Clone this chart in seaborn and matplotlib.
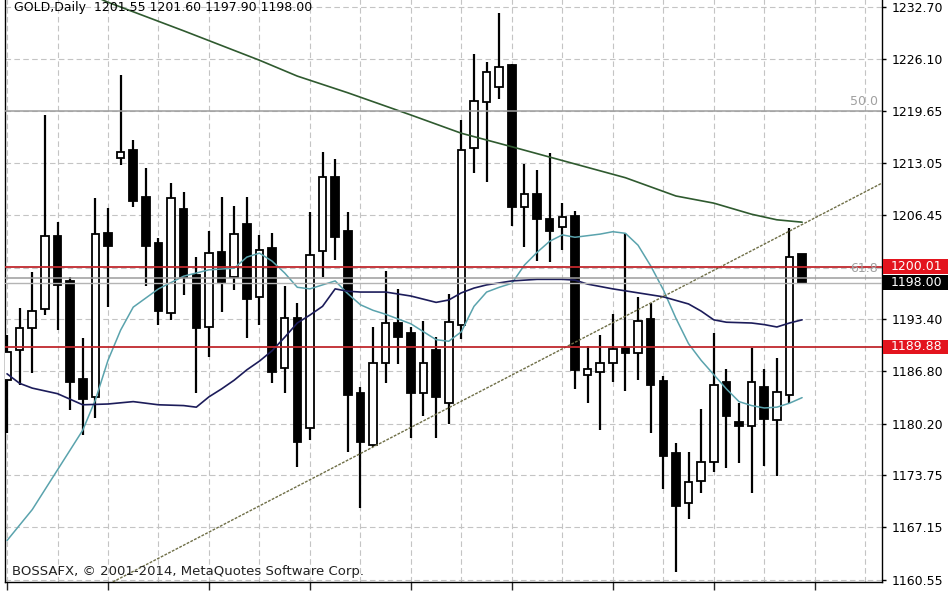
import numpy as np
import pandas as pd
import matplotlib
matplotlib.use("Agg")
import matplotlib.pyplot as plt
import matplotlib.transforms as mtransforms
from matplotlib.patches import Rectangle
import seaborn as sns

sns.set_style("white")
plt.rcParams['font.family'] = ['DejaVu Sans']

# daily GOLD candles (oldest first)
opens = [1185.7, 1189.5, 1192.3, 1194.7, 1203.9, 1198.2, 1185.9, 1183.6, 1204.2, 1213.7,
         1214.7, 1208.8, 1203.0, 1194.2, 1207.3, 1199.0, 1192.4, 1201.8, 1198.7, 1205.4,
         1196.2, 1202.3, 1187.2, 1193.5, 1179.7, 1202.0, 1211.3, 1204.5, 1184.1, 1177.5,
         1187.9, 1192.9, 1191.6, 1184.1, 1189.5, 1182.8, 1192.7, 1214.9, 1220.7, 1222.6,
         1225.4, 1207.5, 1209.2, 1206.0, 1205.0, 1206.4, 1186.4, 1186.7, 1187.9, 1189.8,
         1189.1, 1193.4, 1185.6, 1176.5, 1170.2, 1173.0, 1175.4, 1185.5, 1180.4, 1179.9,
         1184.8, 1180.7, 1183.8, 1201.55]
highs = [1191.4, 1194.8, 1199.3, 1219.1, 1205.6, 1198.7, 1191.0, 1208.6, 1207.4, 1224.1,
         1216.0, 1212.4, 1203.6, 1210.5, 1209.4, 1201.2, 1204.5, 1208.8, 1207.6, 1208.8,
         1204.0, 1204.2, 1197.6, 1195.4, 1206.9, 1214.4, 1213.6, 1206.9, 1184.8, 1192.4,
         1199.5, 1197.2, 1192.4, 1193.2, 1191.1, 1196.6, 1218.5, 1226.8, 1225.8, 1231.9,
         1225.5, 1212.9, 1212.2, 1214.3, 1208.0, 1207.0, 1190.0, 1191.4, 1194.0, 1204.2,
         1196.2, 1195.4, 1186.2, 1177.8, 1176.7, 1182.1, 1191.6, 1187.1, 1182.8, 1189.8,
         1187.1, 1188.5, 1204.9, 1201.60]
lows = [1179.1, 1185.1, 1186.6, 1193.9, 1192.0, 1181.9, 1178.8, 1180.9, 1194.9, 1212.8,
        1207.5, 1197.6, 1192.7, 1193.3, 1196.4, 1184.1, 1188.6, 1194.3, 1197.1, 1191.0,
        1192.7, 1185.3, 1184.1, 1174.8, 1178.2, 1198.7, 1200.8, 1176.7, 1169.6, 1177.3,
        1185.3, 1187.7, 1178.4, 1181.2, 1178.4, 1180.2, 1190.9, 1211.8, 1210.7, 1221.1,
        1205.1, 1202.5, 1200.7, 1200.6, 1202.1, 1184.6, 1182.8, 1179.4, 1185.5, 1184.3,
        1185.7, 1179.1, 1172.0, 1161.5, 1168.2, 1171.5, 1174.1, 1174.6, 1175.3, 1171.5,
        1174.9, 1173.6, 1182.8, 1197.90]
closes = [1189.3, 1192.3, 1194.4, 1203.9, 1197.7, 1185.5, 1183.3, 1204.1, 1202.6, 1214.4,
          1208.3, 1202.6, 1194.4, 1208.6, 1198.7, 1192.3, 1201.7, 1198.1, 1204.1, 1195.9,
          1202.1, 1186.7, 1193.5, 1177.9, 1201.5, 1211.3, 1203.7, 1183.8, 1177.9, 1187.9,
          1192.9, 1191.1, 1184.1, 1187.9, 1183.6, 1193.0, 1214.7, 1220.9, 1224.5, 1225.1,
          1207.5, 1209.2, 1206.0, 1204.5, 1206.3, 1187.0, 1187.1, 1187.9, 1189.6, 1189.1,
          1193.2, 1185.1, 1176.2, 1169.9, 1172.9, 1175.4, 1185.1, 1181.2, 1179.9, 1185.5,
          1180.8, 1184.2, 1201.2, 1198.00]

# moving averages (bar index, value)
fast_idx = [0, 2, 4, 6, 7, 8, 9, 10, 12, 14, 16, 18] + list(range(19, 64))
fast_ma = [1165.5, 1169.4, 1174.4, 1179.4, 1183.2, 1188.2, 1192.0, 1194.9, 1197.2, 1198.8,
           1199.6, 1199.8,
           1201.2, 1201.7, 1200.7, 1199.2, 1197.4, 1197.2, 1197.7, 1198.2, 1196.6, 1195.2,
           1194.5, 1194.0, 1193.4, 1192.8, 1191.8, 1190.8, 1190.6, 1191.8, 1195.0, 1196.8,
           1197.4, 1197.9, 1200.2, 1201.8, 1203.2, 1204.0, 1203.7, 1203.9, 1204.1, 1204.4,
           1204.2, 1202.7, 1200.1, 1197.1, 1193.5, 1190.3, 1188.2, 1186.4, 1184.6, 1183.0,
           1182.5, 1182.2, 1182.3, 1182.8, 1183.5]
mid_idx = [0, 1, 2, 4, 5, 6, 8, 10, 12, 14, 15] + list(range(16, 29)) + \
          [30, 32, 33, 34, 35, 36, 37, 38, 40, 42, 44, 45, 46, 48, 50, 52, 54, 55, 56, 57,
           59, 60, 61, 62, 63]
mid_ma = [1186.5, 1185.3, 1184.7, 1184.0, 1183.3, 1182.6, 1182.7, 1183.0, 1182.6, 1182.5,
          1182.3,
          1183.6, 1184.6, 1185.7, 1187.0, 1188.1, 1189.4, 1191.1, 1192.9, 1193.9, 1195.0,
          1197.2, 1196.9, 1196.8,
          1196.8, 1196.3, 1195.9, 1195.5, 1195.8, 1196.7, 1197.3, 1197.7, 1198.2, 1198.4,
          1198.4, 1198.3, 1197.8, 1197.2, 1196.7, 1196.2, 1195.3, 1194.4, 1193.3, 1193.0,
          1192.9, 1192.7, 1192.4, 1192.9, 1193.3]
slow_idx = [7, 8, 10, 14, 20, 23, 27, 32, 36, 40, 43, 49, 53, 56, 59, 61, 63]
slow_ma = [1234.0, 1233.3, 1232.1, 1229.7, 1226.0, 1224.0, 1221.9, 1219.1, 1216.8, 1215.1,
           1213.8, 1211.2, 1208.9, 1208.0, 1206.6, 1205.9, 1205.6]

trend_idx = [8.4, 69.3]
trend_price = [1160.3, 1210.5]

red_levels = [1200.01, 1189.88]
fib_levels = [1219.65, 1198.60]
fib_names = ['50.0', '61.8']
bid_price = 1198.00

price_ticks = [1160.55, 1167.15, 1173.75, 1180.20, 1186.80, 1193.40, 1199.85,
               1206.45, 1213.05, 1219.65, 1226.10, 1232.70]
price_labels = ['1160.55', '1167.15', '1173.75', '1180.20', '1186.80', '1193.40', '',
                '1206.45', '1213.05', '1219.65', '1226.10', '1232.70']

df = pd.DataFrame({'o': opens, 'h': highs, 'l': lows, 'c': closes})
df['i'] = np.arange(len(df))
df['bottom'] = df[['o', 'c']].min(axis=1)
df['size'] = (df['c'] - df['o']).abs().clip(lower=0.3)
df['col'] = np.where(df['c'] >= df['o'], 'white', 'black')

fig = plt.figure(figsize=(9.48, 5.93), dpi=100)
ax = fig.add_axes([5 / 948, 11 / 593, 877 / 948, 588 / 593])

# grid
ax.set_xticks(range(0, 70, 8))
ax.set_xticks(range(0, 70, 4), minor=True)
ax.set_yticks(price_ticks)
ax.set_yticklabels(price_labels)
ax.grid(True, which='both', axis='x', color='#c4c4c4', lw=0.8, ls=(0, (5, 3)), zorder=0)
ax.grid(True, which='major', axis='y', color='#c4c4c4', lw=0.8, ls=(0, (5, 3)), zorder=0)

# candles
ax.vlines(df['i'], df['l'], df['h'], color='black', lw=1.6, zorder=3)
ax.bar(df['i'], df['size'], bottom=df['bottom'], width=0.6, color=df['col'],
       edgecolor='black', linewidth=1.3, zorder=4)

# moving averages
sns.lineplot(x=fast_idx, y=fast_ma, ax=ax, color='#5aa3ad', lw=1.1, zorder=5)
sns.lineplot(x=mid_idx, y=mid_ma, ax=ax, color='#1c1c5a', lw=1.2, zorder=5)
sns.lineplot(x=slow_idx, y=slow_ma, ax=ax, color='#2f5a2f', lw=1.2, zorder=5)

# trend line
ax.axline((trend_idx[0], trend_price[0]), (trend_idx[1], trend_price[1]),
          color='#6e6e46', lw=1.0, ls=(0, (2, 1)), zorder=5)

# horizontal levels
for v, name in zip(fib_levels, fib_names):
    ax.axhline(v, color='#9c9c9c', lw=1.1, zorder=6)
    ax.text(0.995, v + 0.3, name, transform=mtransforms.blended_transform_factory(
        ax.transAxes, ax.transData), ha='right', va='bottom', color='#a0a0a0',
        fontsize=9, zorder=7)
ax.axhline(bid_price, color='#b4b4b4', lw=1.0, zorder=6)
for v in red_levels:
    ax.axhline(v, color='#c0282d', lw=1.3, zorder=6)

ax.set_xlim(-0.16, 69.33)
ax.set_ylim(1160.28, 1234.34)

ax.yaxis.tick_right()
ax.tick_params(axis='y', which='major', direction='out', length=3, width=1, pad=4,
               labelsize=9, colors='black', right=True, left=False)
ax.tick_params(axis='x', which='major', direction='out', length=6, width=1,
               labelbottom=False, bottom=True)
ax.tick_params(axis='x', which='minor', length=0)
for side in ['left', 'right', 'bottom']:
    ax.spines[side].set_color('black')
    ax.spines[side].set_linewidth(1.0)
ax.spines['top'].set_visible(False)

# price boxes on the right scale
trans = mtransforms.blended_transform_factory(ax.transAxes, ax.transData)
boxes = [(red_levels[0], '#e3141e'), (bid_price, 'black'), (red_levels[1], '#e3141e')]
for v, fc in boxes:
    ax.add_patch(Rectangle((1.0015, v - 0.93), 0.08, 1.86, transform=trans,
                           facecolor=fc, edgecolor='none', clip_on=False, zorder=10))
    ax.text(1.0103, v, f'{v:.2f}', transform=trans, color='white', fontsize=9,
            va='center', ha='left', zorder=11, clip_on=False)

fig.text(14 / 948, 1 - 0.5 / 593, 'GOLD,Daily  1201.55 1201.60 1197.90 1198.00',
         fontsize=9, color='black', va='top', ha='left')
fig.text(12 / 948, 1 - 572 / 593, 'BOSSAFX, © 2001-2014, MetaQuotes Software Corp.',
         fontsize=9.5, color='#222222', va='center', ha='left')

fig.savefig('out.png', dpi=100)
